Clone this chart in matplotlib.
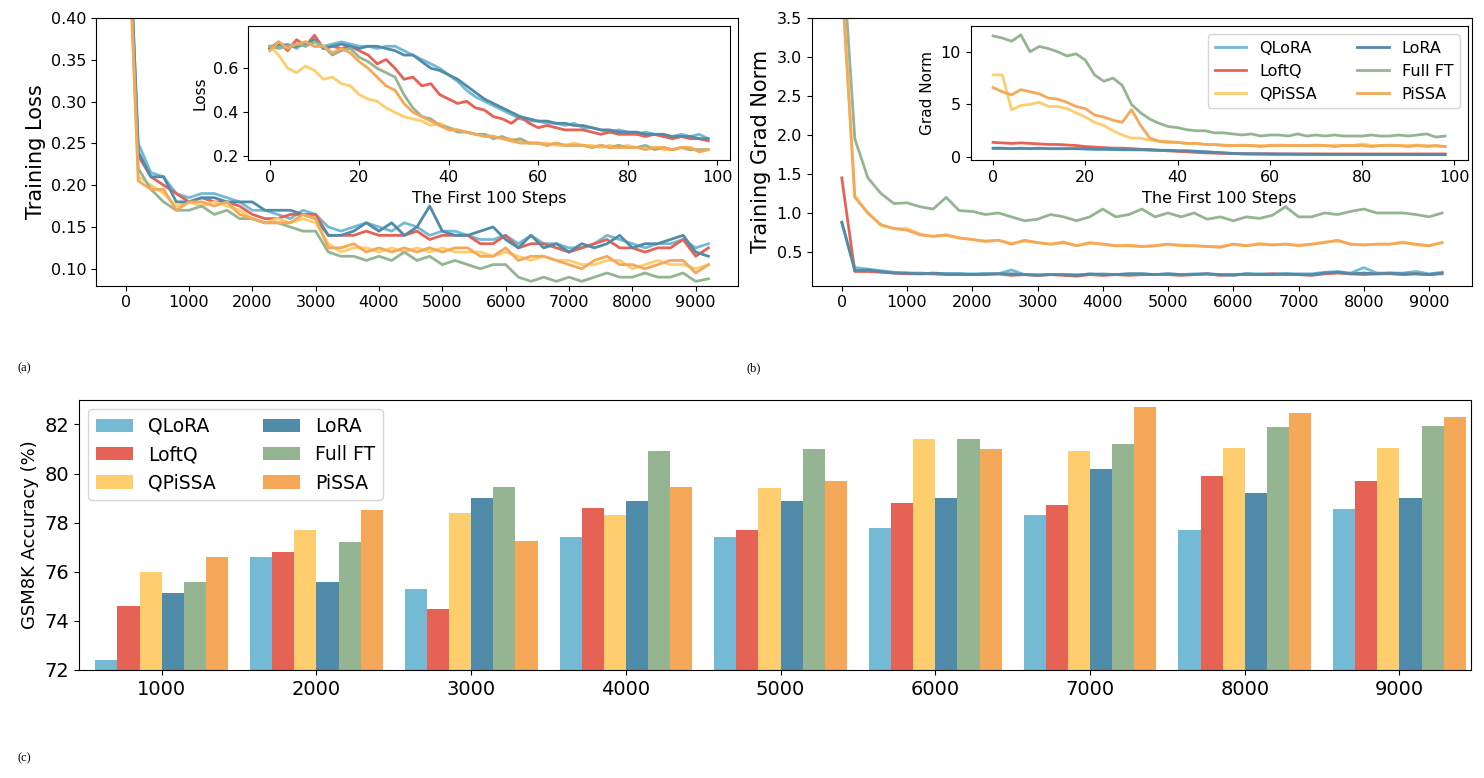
import numpy as np
import matplotlib
matplotlib.use("Agg")
import matplotlib.pyplot as plt

names = ["QLoRA", "LoftQ", "QPiSSA", "LoRA", "Full FT", "PiSSA"]
colors = ["#74bad5", "#e66255", "#fdcd6e", "#508ca9", "#95b491", "#f5a857"]

steps_main = list(range(0, 9201, 200))
steps_inset = list(range(0, 100, 2))

loss_main = {
 "QLoRA": [0.60,0.25,0.215,0.21,0.19,0.185,0.19,0.19,0.185,0.18,0.17,0.17,0.165,0.16,0.17,0.165,0.15,0.145,0.15,0.155,0.15,0.145,0.155,0.15,0.14,0.145,0.145,0.14,0.135,0.135,0.14,0.13,0.14,0.13,0.13,0.125,0.125,0.13,0.14,0.135,0.13,0.125,0.13,0.13,0.135,0.125,0.13],
 "LoRA": [0.62,0.24,0.21,0.21,0.18,0.18,0.185,0.185,0.18,0.18,0.18,0.17,0.17,0.17,0.165,0.16,0.14,0.14,0.145,0.155,0.145,0.155,0.14,0.15,0.175,0.145,0.14,0.14,0.145,0.15,0.135,0.125,0.14,0.125,0.13,0.12,0.13,0.125,0.13,0.14,0.125,0.13,0.13,0.135,0.14,0.12,0.115],
 "LoftQ": [0.61,0.235,0.21,0.20,0.19,0.18,0.185,0.18,0.18,0.175,0.165,0.16,0.16,0.165,0.165,0.165,0.14,0.14,0.14,0.145,0.14,0.14,0.14,0.145,0.135,0.14,0.14,0.14,0.13,0.13,0.14,0.125,0.13,0.13,0.125,0.12,0.125,0.13,0.135,0.125,0.125,0.12,0.125,0.125,0.135,0.115,0.125],
 "QPiSSA": [0.58,0.21,0.20,0.19,0.175,0.18,0.175,0.18,0.175,0.17,0.16,0.155,0.16,0.155,0.16,0.155,0.13,0.12,0.125,0.125,0.12,0.125,0.12,0.125,0.12,0.125,0.12,0.12,0.12,0.115,0.12,0.115,0.11,0.115,0.11,0.11,0.105,0.105,0.11,0.11,0.10,0.105,0.11,0.105,0.105,0.10,0.105],
 "Full FT": [0.59,0.22,0.195,0.18,0.17,0.17,0.175,0.165,0.17,0.16,0.16,0.155,0.155,0.15,0.145,0.145,0.12,0.115,0.115,0.11,0.115,0.11,0.12,0.11,0.115,0.105,0.11,0.105,0.10,0.105,0.105,0.09,0.085,0.09,0.085,0.09,0.085,0.09,0.095,0.09,0.09,0.095,0.09,0.09,0.095,0.085,0.088],
 "PiSSA": [0.60,0.205,0.195,0.195,0.17,0.18,0.18,0.175,0.18,0.165,0.16,0.155,0.155,0.155,0.165,0.16,0.125,0.125,0.13,0.12,0.125,0.12,0.125,0.12,0.125,0.12,0.125,0.125,0.115,0.115,0.125,0.11,0.115,0.115,0.11,0.105,0.10,0.11,0.115,0.105,0.105,0.10,0.105,0.11,0.11,0.095,0.105],
}

loss_inset = {
 "QLoRA": [0.70,0.70,0.71,0.69,0.72,0.70,0.70,0.71,0.72,0.71,0.70,0.70,0.69,0.70,0.70,0.68,0.66,0.64,0.62,0.60,0.57,0.54,0.50,0.47,0.45,0.43,0.41,0.39,0.37,0.36,0.36,0.35,0.35,0.34,0.35,0.33,0.33,0.32,0.31,0.32,0.31,0.30,0.31,0.30,0.29,0.29,0.30,0.29,0.30,0.28],
 "LoRA": [0.69,0.71,0.70,0.70,0.71,0.73,0.69,0.70,0.71,0.70,0.69,0.70,0.70,0.69,0.68,0.66,0.66,0.63,0.60,0.59,0.57,0.55,0.52,0.49,0.46,0.44,0.42,0.40,0.38,0.37,0.36,0.36,0.35,0.35,0.34,0.34,0.33,0.32,0.32,0.31,0.31,0.31,0.30,0.30,0.30,0.29,0.29,0.29,0.28,0.28],
 "LoftQ": [0.69,0.72,0.68,0.73,0.70,0.75,0.69,0.70,0.69,0.70,0.68,0.66,0.62,0.64,0.60,0.55,0.56,0.52,0.53,0.48,0.46,0.44,0.45,0.42,0.41,0.38,0.37,0.35,0.38,0.35,0.33,0.34,0.33,0.32,0.32,0.32,0.31,0.30,0.31,0.30,0.30,0.30,0.29,0.30,0.29,0.28,0.29,0.28,0.28,0.27],
 "QPiSSA": [0.70,0.66,0.60,0.58,0.61,0.59,0.55,0.56,0.53,0.52,0.48,0.46,0.45,0.42,0.40,0.38,0.37,0.36,0.34,0.35,0.33,0.32,0.31,0.30,0.30,0.29,0.28,0.28,0.27,0.26,0.26,0.26,0.25,0.25,0.26,0.25,0.25,0.24,0.25,0.24,0.25,0.24,0.24,0.24,0.23,0.23,0.24,0.23,0.23,0.23],
 "Full FT": [0.70,0.69,0.70,0.71,0.70,0.72,0.70,0.66,0.68,0.69,0.65,0.63,0.60,0.58,0.56,0.48,0.42,0.38,0.37,0.34,0.33,0.31,0.31,0.30,0.30,0.28,0.29,0.27,0.28,0.26,0.26,0.25,0.26,0.25,0.25,0.25,0.24,0.25,0.24,0.25,0.24,0.24,0.25,0.23,0.24,0.23,0.24,0.23,0.23,0.23],
 "PiSSA": [0.68,0.72,0.69,0.71,0.72,0.70,0.70,0.67,0.69,0.67,0.63,0.60,0.56,0.52,0.50,0.44,0.40,0.38,0.36,0.34,0.32,0.32,0.31,0.30,0.29,0.29,0.28,0.27,0.26,0.26,0.26,0.25,0.26,0.25,0.25,0.25,0.24,0.25,0.24,0.24,0.24,0.24,0.23,0.24,0.24,0.23,0.24,0.24,0.22,0.23],
}

grad_main = {
 "QLoRA": [0.88,0.30,0.28,0.26,0.24,0.23,0.23,0.22,0.22,0.22,0.22,0.22,0.22,0.27,0.21,0.21,0.21,0.21,0.21,0.21,0.22,0.21,0.22,0.22,0.21,0.22,0.21,0.22,0.22,0.21,0.21,0.22,0.22,0.22,0.22,0.22,0.22,0.24,0.25,0.23,0.30,0.23,0.23,0.23,0.25,0.22,0.24],
 "LoRA": [0.88,0.26,0.27,0.25,0.23,0.23,0.22,0.23,0.22,0.22,0.21,0.22,0.22,0.22,0.21,0.20,0.21,0.21,0.20,0.22,0.21,0.21,0.22,0.22,0.21,0.22,0.21,0.21,0.22,0.21,0.20,0.22,0.21,0.21,0.22,0.21,0.21,0.23,0.24,0.22,0.23,0.22,0.23,0.22,0.22,0.21,0.23],
 "LoftQ": [1.45,0.25,0.25,0.24,0.23,0.22,0.22,0.22,0.21,0.21,0.21,0.21,0.22,0.20,0.21,0.20,0.21,0.20,0.19,0.21,0.20,0.21,0.20,0.21,0.21,0.21,0.20,0.21,0.22,0.20,0.21,0.21,0.21,0.22,0.21,0.21,0.20,0.22,0.23,0.22,0.21,0.22,0.22,0.21,0.22,0.21,0.22],
 "QPiSSA": [4.00,1.22,1.00,0.84,0.80,0.80,0.73,0.70,0.71,0.68,0.66,0.63,0.65,0.61,0.64,0.62,0.60,0.63,0.58,0.61,0.60,0.58,0.59,0.57,0.58,0.60,0.59,0.58,0.57,0.57,0.60,0.58,0.61,0.59,0.60,0.59,0.60,0.63,0.64,0.60,0.59,0.60,0.60,0.63,0.59,0.58,0.62],
 "Full FT": [4.50,1.95,1.45,1.25,1.12,1.13,1.08,1.05,1.20,1.03,1.02,0.98,1.00,0.95,0.90,0.92,0.98,0.95,0.90,0.95,1.05,0.95,0.98,1.05,0.95,1.00,0.95,1.00,0.92,0.95,0.90,0.95,0.93,0.97,1.08,0.95,0.95,1.00,0.98,1.02,1.05,1.00,1.00,1.00,0.98,0.95,1.00],
 "PiSSA": [4.00,1.20,1.00,0.85,0.80,0.78,0.72,0.70,0.72,0.68,0.66,0.64,0.65,0.60,0.65,0.62,0.60,0.62,0.58,0.62,0.60,0.58,0.58,0.57,0.58,0.60,0.58,0.58,0.57,0.56,0.60,0.58,0.60,0.59,0.60,0.58,0.60,0.62,0.65,0.60,0.59,0.60,0.60,0.62,0.60,0.58,0.62],
}

grad_inset = {
 "QLoRA": [0.8,0.8,0.8,0.8,0.8,0.8,0.8,0.8,0.8,0.8,0.75,0.75,0.75,0.7,0.7,0.7,0.7,0.65,0.65,0.6,0.6,0.55,0.55,0.5,0.45,0.4,0.35,0.3,0.3,0.3,0.3,0.28,0.28,0.27,0.27,0.27,0.26,0.26,0.26,0.26,0.25,0.25,0.25,0.25,0.25,0.25,0.25,0.25,0.25,0.25],
 "LoRA": [0.85,0.85,0.8,0.85,0.8,0.85,0.8,0.8,0.8,0.8,0.8,0.75,0.75,0.75,0.7,0.7,0.7,0.7,0.65,0.65,0.6,0.6,0.55,0.5,0.45,0.4,0.35,0.32,0.3,0.3,0.28,0.28,0.28,0.27,0.27,0.26,0.26,0.26,0.26,0.25,0.25,0.25,0.25,0.25,0.25,0.25,0.24,0.24,0.24,0.24],
 "LoftQ": [1.4,1.35,1.3,1.35,1.3,1.25,1.2,1.2,1.15,1.1,1.0,0.95,0.9,0.85,0.85,0.8,0.75,0.7,0.65,0.6,0.55,0.5,0.45,0.4,0.38,0.35,0.33,0.32,0.32,0.31,0.31,0.3,0.3,0.3,0.3,0.3,0.3,0.3,0.3,0.3,0.3,0.3,0.3,0.3,0.3,0.3,0.3,0.3,0.3,0.3],
 "QPiSSA": [7.8,7.8,4.5,4.9,5.0,5.2,4.8,4.8,4.6,4.2,3.8,3.3,3.0,2.5,2.1,1.8,1.8,1.6,1.5,1.5,1.4,1.3,1.3,1.2,1.2,1.15,1.1,1.15,1.1,1.1,1.1,1.15,1.1,1.1,1.1,1.15,1.1,1.1,1.1,1.1,1.25,1.1,1.1,1.15,1.1,1.1,1.15,1.1,1.05,1.0],
 "Full FT": [11.5,11.3,11.0,11.6,10.0,10.5,10.3,10.0,9.6,9.8,9.2,7.8,7.2,7.5,6.8,5.0,4.2,3.6,3.2,2.9,2.8,2.6,2.5,2.5,2.3,2.3,2.2,2.1,2.2,2.0,2.1,2.1,2.0,2.2,2.0,2.1,2.0,2.1,2.0,2.0,2.0,2.1,2.0,2.0,2.1,2.0,2.1,2.2,1.9,2.0],
 "PiSSA": [6.6,6.2,5.9,6.4,6.2,6.0,5.6,5.5,5.2,4.8,4.6,4.0,3.8,3.5,3.3,4.5,3.0,1.8,1.5,1.4,1.4,1.3,1.3,1.2,1.2,1.1,1.1,1.1,1.1,1.0,1.1,1.1,1.1,1.1,1.1,1.1,1.1,1.0,1.1,1.1,1.1,1.0,1.1,1.1,1.1,1.0,1.1,1.0,1.1,1.0],
}

bar_steps = ["1000", "2000", "3000", "4000", "5000", "6000", "7000", "8000", "9000"]
acc = {
 "QLoRA":  [72.4, 76.6, 75.3, 77.4, 77.4, 77.8, 78.3, 77.7, 78.55],
 "LoftQ":  [74.6, 76.8, 74.5, 78.6, 77.7, 78.8, 78.7, 79.9, 79.7],
 "QPiSSA": [76.0, 77.7, 78.4, 78.3, 79.4, 81.4, 80.9, 81.05, 81.05],
 "LoRA":   [75.15, 75.6, 79.0, 78.9, 78.9, 79.0, 80.2, 79.2, 79.0],
 "Full FT":[75.6, 77.2, 79.45, 80.9, 81.0, 81.4, 81.2, 81.9, 81.95],
 "PiSSA":  [76.6, 78.5, 77.25, 79.45, 79.7, 81.0, 82.7, 82.45, 82.3],
}

fig = plt.figure(figsize=(14.84, 7.78), dpi=100)

def lines(ax, data, xs, lw):
    for n, c in zip(names, colors):
        y = data[n]
        ax.plot(xs[:len(y)], y, color=c, lw=lw, label=n)

# (a)
axa = fig.add_axes([0.065, 0.633, 0.432, 0.344])
lines(axa, loss_main, steps_main, 2)
axa.set_ylim(0.08, 0.40)
axa.set_xticks(range(0, 9001, 1000))
axa.set_ylabel("Training Loss", fontsize=15)
axa.tick_params(labelsize=11.5)
ia = fig.add_axes([0.167, 0.794, 0.325, 0.172])
lines(ia, loss_inset, steps_inset, 2)
ia.set_ylim(0.182, 0.79)
ia.set_yticks([0.2, 0.4, 0.6])
ia.set_xticks(range(0, 101, 20))
ia.set_xlabel("The First 100 Steps", fontsize=11.5)
ia.set_ylabel("Loss", fontsize=11)
ia.tick_params(labelsize=11.5)

# (b)
axb = fig.add_axes([0.547, 0.633, 0.445, 0.344])
lines(axb, grad_main, steps_main, 2)
axb.set_ylim(0.07, 3.5)
axb.set_xticks(range(0, 9001, 1000))
axb.set_ylabel("Training Grad Norm", fontsize=15)
axb.tick_params(labelsize=11.5)
ib = fig.add_axes([0.654, 0.794, 0.335, 0.172])
lines(ib, grad_inset, steps_inset, 2)
ib.set_ylim(-0.3, 12.4)
ib.set_xticks(range(0, 101, 20))
ib.set_xlabel("The First 100 Steps", fontsize=11.5)
ib.set_ylabel("Grad Norm", fontsize=11)
ib.tick_params(labelsize=11.5)
ib.legend(ncol=2, loc="upper right", fontsize=11.5, columnspacing=2.5)

# (c)
axc = fig.add_axes([0.053, 0.139, 0.938, 0.347])
xpos = np.arange(1, len(bar_steps) + 1)
w = 0.143
for i, (n, c) in enumerate(zip(names, colors)):
    axc.bar(xpos + (i - 2.5) * w, np.array(acc[n]) - 72, w, bottom=72, color=c, label=n)
axc.set_ylim(72, 83)
axc.set_xlim(0.463, 9.46)
axc.set_xticks(xpos)
axc.set_xticklabels(bar_steps)
axc.set_yticks([72, 74, 76, 78, 80, 82])
axc.tick_params(labelsize=14)
axc.set_ylabel("GSM8K Accuracy (%)", fontsize=13)
axc.legend(ncol=2, loc="upper left", fontsize=13.5, columnspacing=2.5)

fig.text(0.012, 0.523, "(a)", family="Liberation Serif", fontsize=9)
fig.text(0.503, 0.523, "(b)", family="Liberation Serif", fontsize=9)
fig.text(0.012, 0.021, "(c)", family="Liberation Serif", fontsize=9)

fig.savefig("out.png", dpi=100)
